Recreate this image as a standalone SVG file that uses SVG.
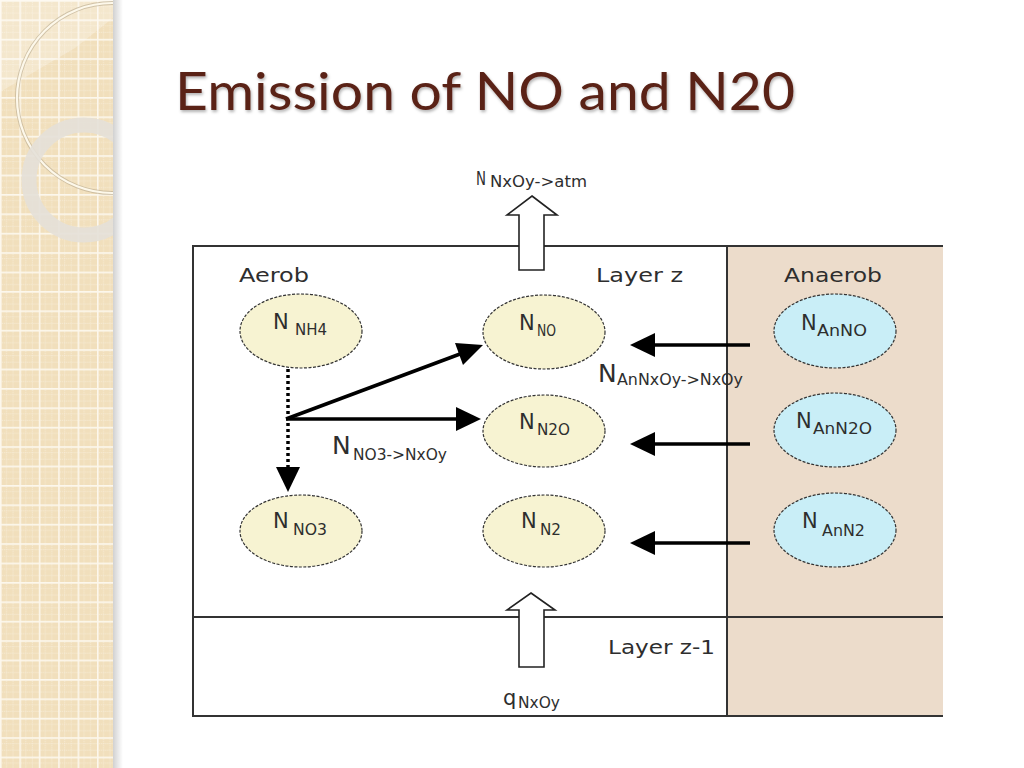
<svg xmlns="http://www.w3.org/2000/svg" width="1024" height="768" viewBox="0 0 1024 768">
  <defs>
    <style>
      .t { font-family: "DejaVu Sans", Verdana, sans-serif; fill: #2e2e2e; }
      .big { font-size: 21px; }
      .sub { font-size: 15px; }
      .lbl { font-size: 20px; }
      .aer { fill: #f7f3d2; stroke: #333; stroke-width: 1.2; stroke-dasharray: 3 1.5; }
      .ana { fill: #c9eef7; stroke: #333; stroke-width: 1.2; stroke-dasharray: 3 1.5; }
      .frame { stroke: #333; stroke-width: 2; fill: none; }
      .conn { stroke: #000; stroke-width: 3.5; fill: none; }
      .hollow { fill: #fff; stroke: #222; stroke-width: 1.6; }
    </style>
    <pattern id="grid" width="19.4" height="19.4" patternUnits="userSpaceOnUse">
      <rect width="19.4" height="19.4" fill="#f1dfbc"/>
      <path d="M6.5 0V19.4M13 0V19.4M0 6.5H19.4M0 13H19.4" stroke="#f8eedb" stroke-width="0.8" stroke-dasharray="1 1"/>
      <path d="M0.8 0V19.4M0 0.8H19.4" stroke="#fcf7ec" stroke-width="1.6"/>
    </pattern>
    <linearGradient id="shadow" x1="0" x2="1" y1="0" y2="0">
      <stop offset="0" stop-color="#000" stop-opacity="0.18"/>
      <stop offset="1" stop-color="#000" stop-opacity="0"/>
    </linearGradient>
    <clipPath id="panelClip"><rect x="0" y="0" width="113" height="768"/></clipPath>
    <clipPath id="topClip"><rect x="470" y="170" width="18" height="30"/></clipPath>
    <filter id="ts" x="-5%" y="-20%" width="110%" height="150%">
      <feDropShadow dx="1" dy="2" stdDeviation="1.5" flood-color="#000" flood-opacity="0.3"/>
    </filter>
  </defs>

  <rect width="1024" height="768" fill="#fff"/>

  <!-- left decorative panel -->
  <g id="panel">
    <rect x="0" y="0" width="113" height="768" fill="url(#grid)"/>
    <g clip-path="url(#panelClip)">
      <polygon points="0,0 113,0 113,18 75,48 0,92" fill="#fff" opacity="0.25"/>
      <circle cx="112" cy="98" r="95" fill="none" stroke="#b8a98c" stroke-width="4" opacity="0.6"/>
      <circle cx="112" cy="98" r="95" fill="none" stroke="#fdf8ea" stroke-width="2.2"/>
      <circle cx="84" cy="180" r="55" fill="none" stroke="#e4e0d8" stroke-width="15" opacity="0.9"/>
    </g>
    <rect x="113" y="0" width="10" height="768" fill="url(#shadow)"/>
  </g>

  <!-- title -->
  <text id="title" x="175" y="110" font-family="Lato, 'Open Sans', sans-serif" font-size="53" fill="#5a2318" textLength="620" lengthAdjust="spacingAndGlyphs" filter="url(#ts)">Emission of NO and N20</text>

  <!-- regions / frame -->
  <g id="frame">
    <rect x="727" y="246" width="216" height="470" fill="#ecdccb"/>
    <line class="frame" x1="193" y1="246" x2="943" y2="246"/>
    <line class="frame" x1="193" y1="617" x2="943" y2="617"/>
    <line class="frame" x1="193" y1="716" x2="943" y2="716"/>
    <line class="frame" x1="193" y1="245" x2="193" y2="717"/>
    <line class="frame" x1="727" y1="246" x2="727" y2="716"/>
    <text class="t lbl" x="239" y="282" textLength="70" lengthAdjust="spacingAndGlyphs">Aerob</text>
    <text class="t lbl" x="596" y="282" textLength="87" lengthAdjust="spacingAndGlyphs">Layer z</text>
    <text class="t lbl" x="784" y="282" textLength="98" lengthAdjust="spacingAndGlyphs">Anaerob</text>
    <text class="t lbl" x="608" y="654" textLength="107" lengthAdjust="spacingAndGlyphs">Layer z-1</text>
  </g>

  <!-- connectors -->
  <g id="connectors">
    <polygon class="hollow" points="532,196 557,215 544,215 544,270 519,270 519,215 507,215"/>
    <polygon class="hollow" points="531,593 555,610 544,610 544,667 519,667 519,610 507,610"/>
    <line x1="288" y1="369" x2="288" y2="470" stroke="#000" stroke-width="3.5" stroke-dasharray="3 3"/>
    <polygon points="276,467 300,467 288,492" fill="#000"/>
    <line class="conn" x1="286" y1="419" x2="460" y2="354"/>
    <polygon points="483,345 463,365 455,343" fill="#000"/>
    <line class="conn" x1="286" y1="419" x2="458" y2="419"/>
    <polygon points="481,419 456,407 456,431" fill="#000"/>
    <line class="conn" x1="750" y1="345" x2="652" y2="345"/>
    <polygon points="630,345 655,333 655,357" fill="#000"/>
    <line class="conn" x1="750" y1="444" x2="652" y2="444"/>
    <polygon points="630,444 655,432 655,456" fill="#000"/>
    <line class="conn" x1="750" y1="543" x2="652" y2="543"/>
    <polygon points="630,543 655,531 655,555" fill="#000"/>
    <g clip-path="url(#topClip)">
      <text class="t" x="476" y="185" font-size="20" textLength="10" lengthAdjust="spacingAndGlyphs">N</text>
    </g>
    <text class="t sub" x="490" y="187" textLength="97" lengthAdjust="spacingAndGlyphs">NxOy-&gt;atm</text>
    <text class="t" x="332" y="454" font-size="25">N</text>
    <text class="t" x="353" y="460" font-size="16" textLength="94" lengthAdjust="spacingAndGlyphs">NO3-&gt;NxOy</text>
    <text class="t" x="598" y="382" font-size="25">N</text>
    <text class="t" x="617" y="385" font-size="16" textLength="126" lengthAdjust="spacingAndGlyphs">AnNxOy-&gt;NxOy</text>
    <text class="t" x="503" y="705" font-size="21">q</text>
    <text class="t sub" x="518" y="708" textLength="42" lengthAdjust="spacingAndGlyphs">NxOy</text>
  </g>

  <!-- nodes -->
  <g id="n-nh4">
    <ellipse class="aer" cx="301" cy="331" rx="61" ry="37"/>
    <text class="t big" x="273" y="329">N</text>
    <text class="t sub" x="295" y="335" textLength="32" lengthAdjust="spacingAndGlyphs">NH4</text>
  </g>
  <g id="n-no">
    <ellipse class="aer" cx="544" cy="332" rx="61" ry="37"/>
    <text class="t big" x="519" y="330">N</text>
    <text class="t sub" x="537" y="336" textLength="19" lengthAdjust="spacingAndGlyphs">NO</text>
  </g>
  <g id="n-n2o">
    <ellipse class="aer" cx="544" cy="431" rx="61" ry="36"/>
    <text class="t big" x="519" y="429">N</text>
    <text class="t sub" x="537" y="435" textLength="33" lengthAdjust="spacingAndGlyphs">N2O</text>
  </g>
  <g id="n-n2">
    <ellipse class="aer" cx="544" cy="531" rx="61" ry="36"/>
    <text class="t big" x="521" y="528">N</text>
    <text class="t sub" x="540" y="535" textLength="21" lengthAdjust="spacingAndGlyphs">N2</text>
  </g>
  <g id="n-no3">
    <ellipse class="aer" cx="301" cy="531" rx="61" ry="36"/>
    <text class="t big" x="273" y="528">N</text>
    <text class="t sub" x="293" y="535" textLength="34" lengthAdjust="spacingAndGlyphs">NO3</text>
  </g>
  <g id="n-anno">
    <ellipse class="ana" cx="835" cy="331" rx="61" ry="37"/>
    <text class="t big" x="801" y="330">N</text>
    <text class="t sub" x="817" y="336" textLength="50" lengthAdjust="spacingAndGlyphs">AnNO</text>
  </g>
  <g id="n-ann2o">
    <ellipse class="ana" cx="835" cy="430" rx="61" ry="37"/>
    <text class="t big" x="796" y="428">N</text>
    <text class="t sub" x="813" y="434" textLength="59" lengthAdjust="spacingAndGlyphs">AnN2O</text>
  </g>
  <g id="n-ann2">
    <ellipse class="ana" cx="835" cy="530" rx="61" ry="37"/>
    <text class="t big" x="802" y="528">N</text>
    <text class="t sub" x="822" y="536" textLength="43" lengthAdjust="spacingAndGlyphs">AnN2</text>
  </g>
</svg>
